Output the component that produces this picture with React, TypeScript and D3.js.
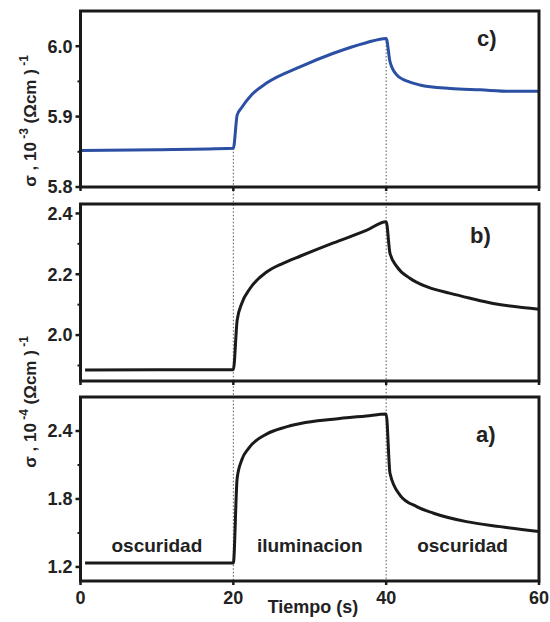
import React from "react";
import * as d3 from "d3";

// ---------- data ----------
const xTicks = [0, 20, 40, 60];

const timeC = [0, 10, 20, 20.5, 21.1, 22.4, 24.4, 28.8, 33.1, 37.4, 40, 40.5, 41.4, 43.1, 44.4, 48.4, 52.3, 56.2, 60];
const valC = [5.852, 5.853, 5.855, 5.902, 5.913, 5.931, 5.948, 5.971, 5.99, 6.005, 6.011, 5.978, 5.959, 5.949, 5.945, 5.94, 5.938, 5.936, 5.936];

const timeB = [0.6, 10, 20, 20.5, 21.1, 22.2, 24.4, 26.5, 28.8, 33.1, 37.4, 40, 40.5, 41.4, 43.1, 45.3, 48.4, 51.0, 54.0, 60];
const valB = [1.885, 1.886, 1.886, 2.049, 2.104, 2.154, 2.208, 2.236, 2.26, 2.303, 2.344, 2.373, 2.269, 2.225, 2.187, 2.159, 2.137, 2.121, 2.104, 2.085];

const timeA = [0.6, 10, 20, 20.5, 21.1, 22.0, 24.4, 26.6, 28.8, 33.1, 37.4, 40, 40.5, 41.8, 44.0, 46.2, 50.5, 54.9, 60];
const valA = [1.235, 1.235, 1.235, 1.983, 2.144, 2.247, 2.375, 2.43, 2.466, 2.504, 2.533, 2.55, 2.027, 1.835, 1.732, 1.674, 1.6, 1.556, 1.512];

const ticksC = [5.8, 5.9, 6.0];
const minorC = [5.85, 5.95];
const ticksB = [2.0, 2.2, 2.4];
const minorB = [1.9, 2.1, 2.3];
const ticksA = [1.2, 1.8, 2.4];
const minorA = [1.5, 2.1];

const regionLabels = ["oscuridad", "iluminacion", "oscuridad"];
const regionCenters = [10, 30, 50];
const switchTimes = [20, 40];

// ---------- layout ----------
const W = 550;
const H = 622;
const X0 = 80.5;
const X1 = 539;
const FONT = "'Liberation Sans', Arial, sans-serif";

const x = d3.scaleLinear().domain([0, 60]).range([X0, X1]);

type Panel = {
  key: string;
  top: number;
  bottom: number;
  domain: [number, number];
  time: number[];
  vals: number[];
  ticks: number[];
  minor: number[];
  color: string;
  label: string;
  labelX: number;
  labelY: number;
};

const panels: Panel[] = [
  { key: "c", top: 11, bottom: 187, domain: [5.8, 6.05], time: timeC, vals: valC, ticks: ticksC, minor: minorC, color: "#2a4fa3", label: "c)", labelX: 477, labelY: 46 },
  { key: "b", top: 204, bottom: 381, domain: [1.849, 2.431], time: timeB, vals: valB, ticks: ticksB, minor: minorB, color: "#1a1a1a", label: "b)", labelX: 470, labelY: 243 },
  { key: "a", top: 397, bottom: 581, domain: [1.076, 2.7], time: timeA, vals: valA, ticks: ticksA, minor: minorA, color: "#1a1a1a", label: "a)", labelX: 476, labelY: 442 },
];

function PanelView({ p }: { p: Panel }) {
  const y = d3.scaleLinear().domain(p.domain).range([p.bottom, p.top]);
  const line = d3
    .line<number>()
    .x((_, i) => x(p.time[i]))
    .y((v) => y(v))
    .curve(d3.curveMonotoneX);
  const fmt = d3.format(".1f");
  return (
    <g>
      <path d={line(p.vals) || ""} fill="none" stroke={p.color} strokeWidth={3} strokeLinejoin="round" />
      <rect x={X0} y={p.top} width={X1 - X0} height={p.bottom - p.top} fill="none" stroke="#1a1a1a" strokeWidth={3} />
      {p.ticks.map((t) => (
        <g key={"yt" + t}>
          <line x1={X0 - 5} x2={X0} y1={y(t)} y2={y(t)} stroke="#1a1a1a" strokeWidth={2.5} />
          <text x={X0 - 8} y={y(t)} dy="0.35em" textAnchor="end" fontFamily={FONT} fontWeight="bold" fontSize={18} fill="#222">
            {fmt(t)}
          </text>
        </g>
      ))}
      {p.minor.map((t) => (
        <line key={"ym" + t} x1={X0 - 3} x2={X0} y1={y(t)} y2={y(t)} stroke="#1a1a1a" strokeWidth={2} />
      ))}
      {xTicks.map((t) => (
        <line key={"xt" + t} x1={x(t)} x2={x(t)} y1={p.bottom} y2={p.bottom + 4} stroke="#1a1a1a" strokeWidth={2.5} />
      ))}
      <text x={p.labelX} y={p.labelY} fontFamily={FONT} fontWeight="bold" fontSize={22} fill="#222">
        {p.label}
      </text>
    </g>
  );
}

function YLabel({ cx, cy, exp }: { cx: number; cy: number; exp: string }) {
  return (
    <text transform={`translate(${cx},${cy}) rotate(-90)`} textAnchor="middle" fontFamily={FONT} fontWeight="bold" fontSize={17} fill="#222">
      σ , 10
      <tspan dy={-8} fontSize={12}> {exp}</tspan>
      <tspan dy={8}> (Ωcm )</tspan>
      <tspan dy={-8} fontSize={12}> -1</tspan>
    </text>
  );
}

export default function App() {
  const yc = d3.scaleLinear().domain(panels[0].domain).range([panels[0].bottom, panels[0].top]);
  const dotStart = [yc(valC[2]), yc(valC[10])];
  const bottom = panels[2].bottom;
  return (
    <svg width={W} height={H} style={{ position: "absolute", left: 0, top: 0, background: "#fff" }}>
      <rect width={W} height={H} fill="#fff" />
      {switchTimes.map((t, i) => (
        <line key={"sw" + t} x1={x(t)} x2={x(t)} y1={dotStart[i]} y2={bottom} stroke="#555" strokeWidth={1} strokeDasharray="1.5,2" />
      ))}
      {panels.map((p) => (
        <PanelView key={p.key} p={p} />
      ))}
      {regionLabels.map((l, i) => (
        <text key={"rl" + i} x={x(regionCenters[i])} y={552} textAnchor="middle" fontFamily={FONT} fontWeight="bold" fontSize={19} fill="#222">
          {l}
        </text>
      ))}
      {xTicks.map((t) => (
        <text key={"xl" + t} x={x(t)} y={604} textAnchor="middle" fontFamily={FONT} fontWeight="bold" fontSize={18} fill="#222">
          {t}
        </text>
      ))}
      <text x={313} y={613} textAnchor="middle" fontFamily={FONT} fontWeight="bold" fontSize={18} fill="#222">
        Tiempo (s)
      </text>
      <YLabel cx={36} cy={121} exp="-3" />
      <YLabel cx={36} cy={402} exp="-4" />
    </svg>
  );
}
